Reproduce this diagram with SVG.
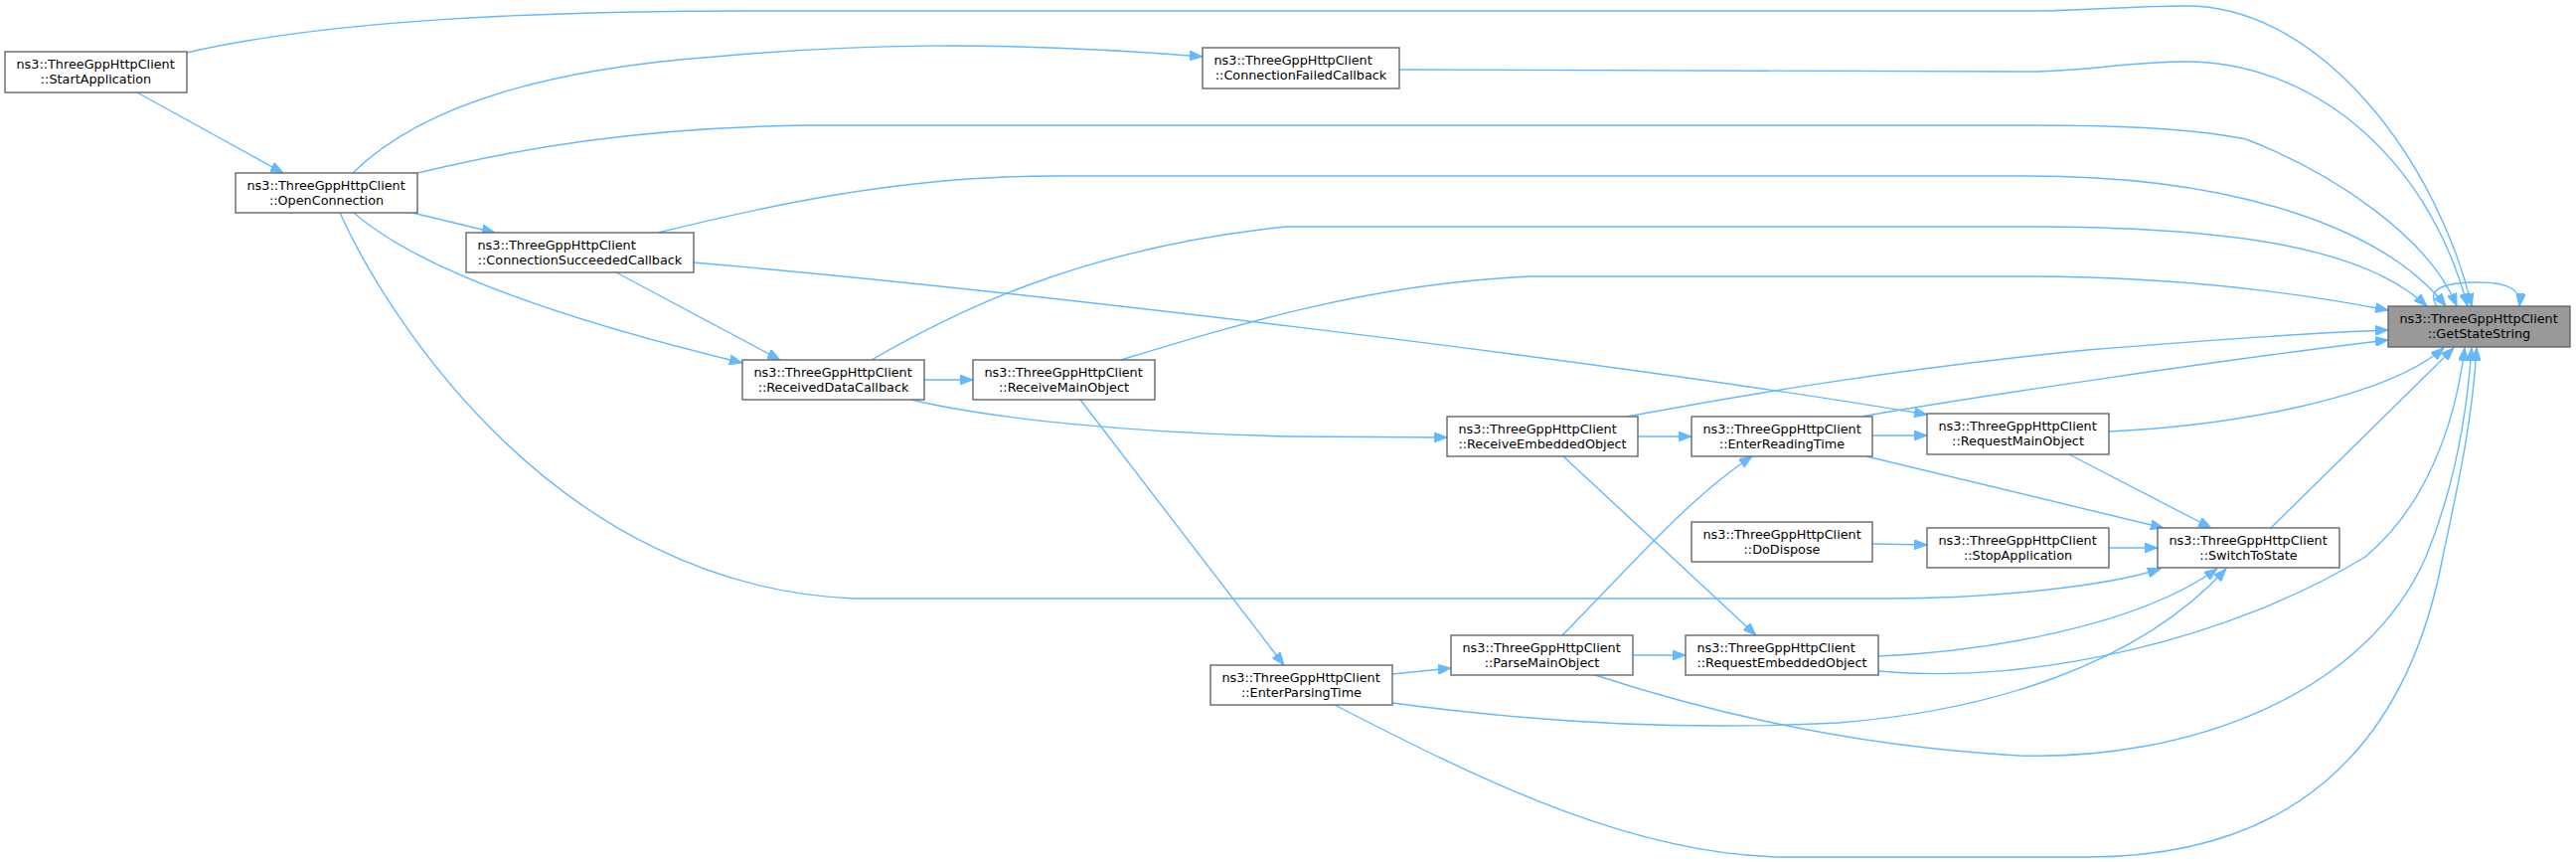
<svg xmlns="http://www.w3.org/2000/svg" width="2592" height="867" viewBox="0 0 2592 867">
<defs>
<style>
.node rect{fill:#ffffff;stroke:#666666;stroke-width:1.4}
.focus rect{fill:#999999;stroke:#666666;stroke-width:1.4}
.node text,.focus text{font-family:"DejaVu Sans","Noto Sans",sans-serif;font-size:12.8px;fill:#000000}
.l1{text-anchor:start}
.l2{text-anchor:middle}
#edges path{fill:none;stroke:#63b8ff;stroke-width:1.4;marker-end:url(#arr)}
</style>
<marker id="arr" markerUnits="userSpaceOnUse" markerWidth="14" markerHeight="10" refX="13" refY="5" orient="auto">
<path d="M0,0 L13,5 L0,10 z" fill="#63b8ff" stroke="#63b8ff" stroke-width="1"/>
</marker>
</defs>
<rect x="0" y="0" width="2592" height="867" fill="#ffffff"/>

<g id="edges">
<path d="M138,93 L285,174"/>
<path d="M188,53 C330,20 540,11 760,11 L2040,11 C2100,11 2140,6 2200,6 C2340,6 2455,170 2487,308"/>
<path d="M1408,70 L2040,72 C2100,72 2140,62 2200,62 C2320,62 2440,150 2483,308"/>
<path d="M355,174 C420,110 540,70 720,57 C850,45 1000,40 1210,57"/>
<path d="M420,174 C520,150 640,128 816,126 L2040,126 C2120,126 2200,128 2260,140 C2350,175 2445,240 2472,308"/>
<path d="M662,234 C760,210 900,177 1060,177 L2040,177 C2250,177 2400,230 2461,308"/>
<path d="M877,362 C950,320 1080,250 1294,228 L2040,228 C2250,228 2380,250 2442,308"/>
<path d="M1128,362 C1250,325 1380,285 1540,278 L2040,278 C2200,278 2330,298 2403,312"/>
<path d="M1637,419 C1750,398 1900,372 2100,352 C2250,340 2340,334 2403,332"/>
<path d="M1873,419 C1980,400 2250,360 2403,342"/>
<path d="M2122,434 C2250,428 2400,400 2459,350"/>
<path d="M2285,531 L2469,350"/>
<path d="M1890,675 C2050,690 2250,640 2380,560 C2440,510 2470,430 2480,350"/>
<path d="M1605,679 C1700,710 1850,750 2032,760 C2200,765 2380,700 2441,560 C2470,490 2482,420 2487,350"/>
<path d="M1343,709 C1500,790 1650,862 1800,862 L2100,862 C2300,862 2420,760 2458,560 C2475,480 2488,420 2492,350"/>
<path d="M342,214 C390,320 560,590 860,602 L1900,602 C2000,602 2120,590 2174,572"/>
<path d="M356,214 C420,270 560,320 747,365"/>
<path d="M415,214 L498,234"/>
<path d="M620,274 L785,362"/>
<path d="M698,264 C1000,290 1600,360 1939,417"/>
<path d="M930,382 L979,382"/>
<path d="M917,402 C1000,422 1150,436 1300,439 L1456,440"/>
<path d="M1087,402 L1292,669"/>
<path d="M1401,678 L1460,672"/>
<path d="M1648,439 L1702,439"/>
<path d="M1573,459 L1767,639"/>
<path d="M1572,639 C1640,570 1700,500 1763,459"/>
<path d="M1643,659 L1696,659"/>
<path d="M1401,707 C1550,727 1700,735 1850,727 C2000,715 2150,670 2240,572"/>
<path d="M1890,660 C2000,655 2150,630 2231,572"/>
<path d="M1884,438 L1939,438"/>
<path d="M1878,459 L2177,531"/>
<path d="M2082,457 L2225,531"/>
<path d="M1884,547 L1939,548"/>
<path d="M2122,551 L2171,551"/>
<path d="M2452,308 C2440,290 2460,284 2495,284 C2525,284 2537,292 2535,308"/>
</g>

<g id="n_StartApplication" class="node"><rect x="5" y="52" width="183" height="41"/><text class="l1" x="16.5" y="68.5">ns3::ThreeGppHttpClient</text><text class="l2" x="96.5" y="83.5">::StartApplication</text></g>
<g id="n_OpenConnection" class="node"><rect x="237" y="174" width="183" height="40"/><text class="l1" x="248.5" y="190.5">ns3::ThreeGppHttpClient</text><text class="l2" x="328.5" y="205.5">::OpenConnection</text></g>
<g id="n_ConnectionSucceededCallback" class="node"><rect x="469" y="234" width="229" height="40"/><text class="l1" x="480.5" y="250.5">ns3::ThreeGppHttpClient</text><text class="l2" x="583.5" y="265.5">::ConnectionSucceededCallback</text></g>
<g id="n_ConnectionFailedCallback" class="node"><rect x="1210" y="48" width="198" height="41"/><text class="l1" x="1221.5" y="64.5">ns3::ThreeGppHttpClient</text><text class="l2" x="1309" y="79.5">::ConnectionFailedCallback</text></g>
<g id="n_ReceivedDataCallback" class="node"><rect x="747" y="362" width="183" height="40"/><text class="l1" x="758.5" y="378.5">ns3::ThreeGppHttpClient</text><text class="l2" x="838.5" y="393.5">::ReceivedDataCallback</text></g>
<g id="n_ReceiveMainObject" class="node"><rect x="979" y="362" width="183" height="40"/><text class="l1" x="990.5" y="378.5">ns3::ThreeGppHttpClient</text><text class="l2" x="1070.5" y="393.5">::ReceiveMainObject</text></g>
<g id="n_ReceiveEmbeddedObject" class="node"><rect x="1456" y="419" width="192" height="40"/><text class="l1" x="1467.5" y="435.5">ns3::ThreeGppHttpClient</text><text class="l2" x="1552" y="450.5">::ReceiveEmbeddedObject</text></g>
<g id="n_EnterReadingTime" class="node"><rect x="1702" y="419" width="182" height="40"/><text class="l1" x="1713.5" y="435.5">ns3::ThreeGppHttpClient</text><text class="l2" x="1793" y="450.5">::EnterReadingTime</text></g>
<g id="n_DoDispose" class="node"><rect x="1702" y="525" width="182" height="40"/><text class="l1" x="1713.5" y="541.5">ns3::ThreeGppHttpClient</text><text class="l2" x="1793" y="556.5">::DoDispose</text></g>
<g id="n_ParseMainObject" class="node"><rect x="1460" y="639" width="183" height="40"/><text class="l1" x="1471.5" y="655.5">ns3::ThreeGppHttpClient</text><text class="l2" x="1551.5" y="670.5">::ParseMainObject</text></g>
<g id="n_RequestEmbeddedObject" class="node"><rect x="1696" y="639" width="194" height="40"/><text class="l1" x="1707.5" y="655.5">ns3::ThreeGppHttpClient</text><text class="l2" x="1793" y="670.5">::RequestEmbeddedObject</text></g>
<g id="n_EnterParsingTime" class="node"><rect x="1218" y="669" width="183" height="40"/><text class="l1" x="1229.5" y="685.5">ns3::ThreeGppHttpClient</text><text class="l2" x="1309.5" y="700.5">::EnterParsingTime</text></g>
<g id="n_RequestMainObject" class="node"><rect x="1939" y="416" width="183" height="41"/><text class="l1" x="1950.5" y="432.5">ns3::ThreeGppHttpClient</text><text class="l2" x="2030.5" y="447.5">::RequestMainObject</text></g>
<g id="n_StopApplication" class="node"><rect x="1939" y="531" width="183" height="40"/><text class="l1" x="1950.5" y="547.5">ns3::ThreeGppHttpClient</text><text class="l2" x="2030.5" y="562.5">::StopApplication</text></g>
<g id="n_SwitchToState" class="node"><rect x="2171" y="531" width="183" height="40"/><text class="l1" x="2182.5" y="547.5">ns3::ThreeGppHttpClient</text><text class="l2" x="2262.5" y="562.5">::SwitchToState</text></g>
<g id="n_GetStateString" class="focus"><rect x="2403" y="308" width="183" height="41"/><text class="l1" x="2414.5" y="324.5">ns3::ThreeGppHttpClient</text><text class="l2" x="2494.5" y="339.5">::GetStateString</text></g>
</svg>
